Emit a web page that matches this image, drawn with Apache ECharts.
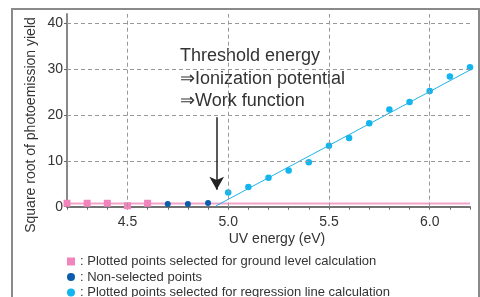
<!DOCTYPE html>
<html>
<head>
<meta charset="utf-8">
<script src="https://cdn.jsdelivr.net/npm/echarts@6/dist/echarts.min.js"></script>
<style>
  html, body { margin: 0; padding: 0; background: #fff; }
  #chart { width: 480px; height: 297px; }
</style>
</head>
<body>
<div id="chart"></div>
<script>
// values
var groundX = [4.2, 4.3, 4.4, 4.5, 4.6];
var groundY = [0.75, 0.75, 0.75, 0.2, 0.75];
var otherX = [4.7, 4.8, 4.9];
var otherY = [0.6, 0.6, 0.8];
var regX = [5.0, 5.1, 5.2, 5.3, 5.4, 5.5, 5.6, 5.7, 5.8, 5.9, 6.0, 6.1, 6.2];
var regY = [3.1, 4.3, 6.3, 7.9, 9.7, 13.3, 15.0, 18.2, 21.2, 22.8, 25.2, 28.4, 30.4];
var groundLevel = [[4.2, 0.7], [6.2, 0.7]];
var regLine = [[4.94, 0.2], [6.2, 29.8]];
var threshold = 4.943;
var arrowFrom = 19.5, arrowTo = 3.7;

var xLabels = [4.5, 5.0, 5.5, 6.0];
var xTicks = [4.2, 4.3, 4.4, 4.5, 4.6, 4.7, 4.8, 4.9, 5.0, 5.1, 5.2, 5.3, 5.4, 5.5, 5.6, 5.7, 5.8, 5.9, 6.0, 6.1, 6.2];
var yLabels = [0, 10, 20, 30, 40];

var names = [
  'Plotted points selected for ground level calculation',
  'Non-selected points',
  'Plotted points selected for regression line calculation'
];
var FONT = '"Liberation Sans", Arial, sans-serif';

function pairs(xs, ys) {
  var out = [];
  for (var i = 0; i < xs.length; i++) out.push([xs[i], ys[i]]);
  return out;
}

var gridLines = [];
yLabels.forEach(function (v) { if (v > 0) gridLines.push({ yAxis: v }); });
xLabels.forEach(function (v) { gridLines.push({ xAxis: v }); });

var myChart = echarts.init(document.getElementById('chart'));
var option = {
  animation: false,
  textStyle: { fontFamily: FONT },
  grid: { left: 67, right: 10, top: 14, bottom: 90.3 },
  xAxis: {
    type: 'value',
    min: 4.2,
    max: 6.2,
    axisLine: { lineStyle: { color: '#444', width: 1.5 } },
    axisTick: { show: true, length: 3, customValues: xTicks, lineStyle: { color: '#666' } },
    axisLabel: {
      customValues: xLabels, margin: 8, color: '#333', fontSize: 14, fontFamily: FONT,
      formatter: function (v) { return v.toFixed(1); }
    },
    splitLine: { show: false }
  },
  yAxis: {
    type: 'value',
    min: 0,
    max: 42,
    axisLine: { show: true, lineStyle: { color: '#888', width: 2 } },
    axisTick: { show: true, length: 3, customValues: yLabels, lineStyle: { color: '#666' } },
    axisLabel: { customValues: yLabels, margin: 4, color: '#333', fontSize: 14, fontFamily: FONT },
    splitLine: { show: false }
  },
  legend: {
    orient: 'vertical',
    left: 67,
    top: 255,
    padding: 0,
    height: 60,
    itemWidth: 8,
    itemHeight: 8,
    itemGap: 2.5,
    data: names,
    formatter: function (n) { return ': ' + n; },
    textStyle: { fontSize: 13, color: '#333', fontFamily: FONT, lineHeight: 13 }
  },
  series: [
    {
      name: 'ground level',
      type: 'line',
      data: groundLevel,
      symbol: 'none',
      z: 1,
      lineStyle: { color: '#f3a3c9', width: 2 },
      markLine: {
        silent: true,
        symbol: ['none', 'none'],
        label: { show: false },
        lineStyle: { color: '#999', type: [4, 3], width: 1 },
        data: gridLines
      }
    },
    {
      name: 'regression',
      type: 'line',
      data: regLine,
      symbol: 'none',
      lineStyle: { color: '#1fb2ea', width: 1 },
      markLine: {
        silent: true,
        symbol: ['none', 'arrow'],
        symbolSize: [11, 13],
        label: { show: false },
        lineStyle: { color: '#222', type: 'solid', width: 1.5 },
        data: [[{ coord: [threshold, arrowFrom] }, { coord: [threshold, arrowTo] }]]
      }
    },
    {
      name: names[0],
      type: 'scatter',
      clip: false,
      symbol: 'rect',
      symbolSize: 7,
      itemStyle: { color: '#f084bb', opacity: 1 },
      data: pairs(groundX, groundY)
    },
    {
      name: names[1],
      type: 'scatter',
      clip: false,
      symbol: 'circle',
      symbolSize: 6,
      itemStyle: { color: '#0b5cab', opacity: 1 },
      data: pairs(otherX, otherY)
    },
    {
      name: names[2],
      type: 'scatter',
      clip: false,
      symbol: 'circle',
      symbolSize: 6.5,
      itemStyle: { color: '#12b5ee', opacity: 1 },
      data: pairs(regX, regY)
    }
  ],
  graphic: [
    {
      type: 'rect', silent: true, z: 0,
      shape: { x: 12, y: 9, width: 467, height: 300 },
      style: { fill: 'none', stroke: '#8a8a8a', lineWidth: 2 }
    },
    {
      type: 'text', silent: true,
      x: 31, y: 125, rotation: Math.PI / 2,
      style: { text: 'Square root of photoemission yield', font: '14px ' + FONT, fill: '#333', align: 'center', verticalAlign: 'middle' }
    },
    {
      type: 'text', silent: true,
      x: 277, y: 239,
      style: { text: 'UV energy (eV)', font: '14px ' + FONT, fill: '#333', align: 'center', verticalAlign: 'middle' }
    },
    {
      type: 'text', silent: true,
      x: 180, y: 45,
      style: { text: 'Threshold energy\n⇒Ionization potential\n⇒Work function', font: '18px ' + FONT, fill: '#333', lineHeight: 22.5 }
    }
  ]
};
myChart.setOption(option);
</script>
</body>
</html>
